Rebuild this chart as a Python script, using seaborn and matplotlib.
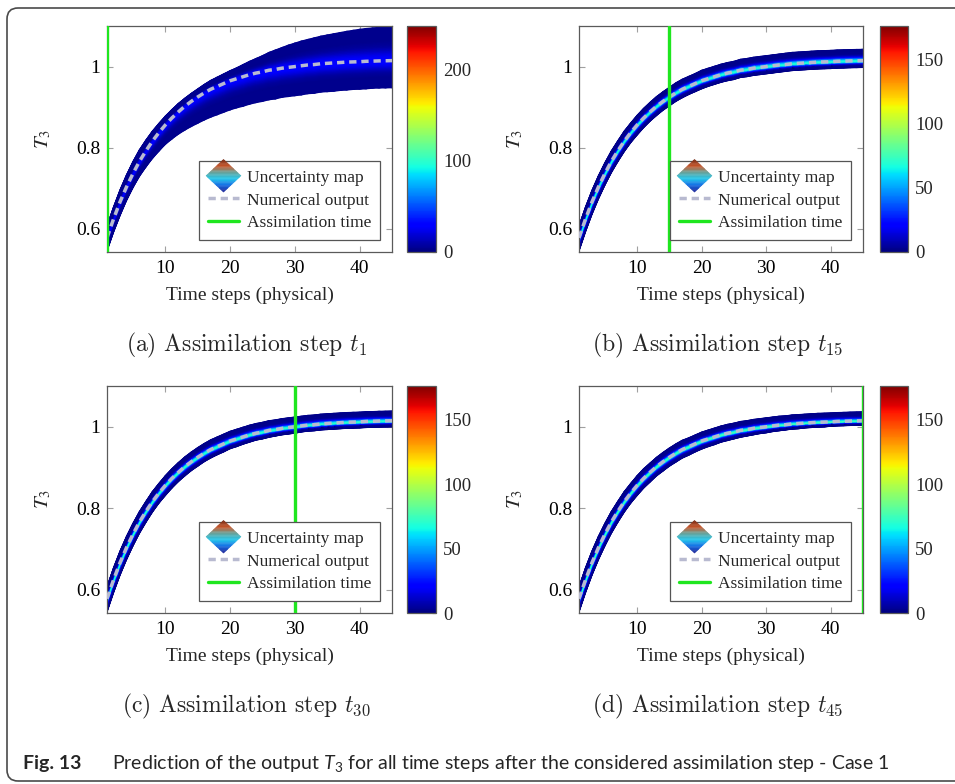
import numpy as np
import matplotlib
matplotlib.use("Agg")
import matplotlib.pyplot as plt
import seaborn as sns
from matplotlib import font_manager
from matplotlib.legend_handler import HandlerBase
from matplotlib.patches import Polygon, FancyBboxPatch
from matplotlib.lines import Line2D
from matplotlib.colors import LinearSegmentedColormap

# ---------------------------------------------------------------- data
time_steps = list(range(1, 46))

numerical_output = [
    0.578, 0.624, 0.666, 0.703, 0.736,
    0.766, 0.792, 0.816, 0.837, 0.856,
    0.873, 0.888, 0.902, 0.914, 0.925,
    0.935, 0.944, 0.951, 0.958, 0.965,
    0.970, 0.975, 0.980, 0.984, 0.987,
    0.991, 0.993, 0.996, 0.998, 1.000,
    1.002, 1.004, 1.005, 1.007, 1.008,
    1.009, 1.010, 1.011, 1.0115, 1.012,
    1.013, 1.0134, 1.014, 1.0143, 1.0147,
]

# ensemble spread above / below the numerical output, per time step
spread_above_a = [
    0.030, 0.030, 0.030, 0.030, 0.030,
    0.029, 0.027, 0.025, 0.023, 0.022,
    0.021, 0.021, 0.020, 0.020, 0.020,
    0.021, 0.022, 0.023, 0.024, 0.025,
    0.027, 0.030, 0.033, 0.036, 0.040,
    0.044, 0.048, 0.051, 0.055, 0.058,
    0.061, 0.063, 0.066, 0.068, 0.070,
    0.072, 0.074, 0.076, 0.078, 0.080,
    0.081, 0.082, 0.083, 0.084, 0.085,
]
spread_below_a = [
    0.033, 0.033, 0.034, 0.034, 0.035,
    0.037, 0.040, 0.043, 0.046, 0.048,
    0.052, 0.055, 0.059, 0.062, 0.065,
    0.067, 0.069, 0.070, 0.071, 0.072,
    0.072, 0.073, 0.073, 0.073, 0.073,
    0.073, 0.073, 0.072, 0.072, 0.072,
    0.072, 0.071, 0.071, 0.070, 0.070,
    0.070, 0.069, 0.069, 0.068, 0.068,
    0.068, 0.067, 0.067, 0.067, 0.067,
]
spread_above_b = [
    0.030, 0.030, 0.029, 0.028, 0.027,
    0.026, 0.025, 0.025, 0.024, 0.024,
    0.024, 0.024, 0.024, 0.024, 0.024,
    0.025, 0.025, 0.025, 0.025, 0.026,
    0.026, 0.026, 0.026, 0.026, 0.026,
    0.027, 0.027, 0.027, 0.027, 0.027,
    0.027, 0.027, 0.028, 0.028, 0.028,
    0.028, 0.028, 0.028, 0.028, 0.028,
    0.028, 0.028, 0.028, 0.028, 0.028,
]
spread_below_b = [
    0.033, 0.032, 0.031, 0.030, 0.029,
    0.028, 0.027, 0.026, 0.025, 0.025,
    0.024, 0.023, 0.023, 0.022, 0.022,
    0.021, 0.021, 0.020, 0.020, 0.020,
    0.019, 0.019, 0.019, 0.019, 0.019,
    0.018, 0.018, 0.018, 0.018, 0.018,
    0.018, 0.018, 0.017, 0.017, 0.017,
    0.017, 0.017, 0.017, 0.017, 0.017,
    0.017, 0.017, 0.017, 0.017, 0.017,
]
spread_above_c = [
    0.030, 0.030, 0.029, 0.028, 0.027,
    0.026, 0.025, 0.025, 0.024, 0.024,
    0.024, 0.024, 0.024, 0.024, 0.024,
    0.024, 0.024, 0.024, 0.024, 0.024,
    0.024, 0.024, 0.024, 0.024, 0.024,
    0.024, 0.024, 0.024, 0.024, 0.024,
    0.024, 0.024, 0.024, 0.024, 0.024,
    0.024, 0.024, 0.024, 0.024, 0.024,
    0.024, 0.024, 0.024, 0.024, 0.024,
]
spread_below_c = [
    0.033, 0.032, 0.031, 0.030, 0.029,
    0.028, 0.027, 0.026, 0.025, 0.025,
    0.024, 0.023, 0.023, 0.022, 0.022,
    0.021, 0.021, 0.020, 0.020, 0.019,
    0.019, 0.018, 0.018, 0.017, 0.017,
    0.017, 0.016, 0.016, 0.016, 0.016,
    0.015, 0.015, 0.015, 0.015, 0.015,
    0.015, 0.015, 0.015, 0.015, 0.015,
    0.015, 0.015, 0.015, 0.015, 0.015,
]
spread_above_d = [
    0.030, 0.030, 0.029, 0.028, 0.027,
    0.026, 0.025, 0.025, 0.024, 0.024,
    0.024, 0.023, 0.023, 0.023, 0.023,
    0.023, 0.023, 0.022, 0.022, 0.022,
    0.022, 0.022, 0.022, 0.022, 0.022,
    0.022, 0.022, 0.022, 0.022, 0.022,
    0.022, 0.022, 0.022, 0.022, 0.022,
    0.022, 0.022, 0.022, 0.022, 0.022,
    0.022, 0.022, 0.022, 0.022, 0.022,
]
spread_below_d = [
    0.033, 0.032, 0.031, 0.030, 0.029,
    0.028, 0.027, 0.026, 0.025, 0.025,
    0.024, 0.024, 0.023, 0.023, 0.022,
    0.022, 0.021, 0.021, 0.020, 0.020,
    0.019, 0.019, 0.018, 0.018, 0.017,
    0.017, 0.016, 0.016, 0.015, 0.015,
    0.014, 0.014, 0.013, 0.013, 0.013,
    0.012, 0.012, 0.012, 0.012, 0.011,
    0.011, 0.011, 0.011, 0.011, 0.011,
]

panel_letters = ["a", "b", "c", "d"]
assimilation_steps = [1, 15, 30, 45]
spreads_above = [spread_above_a, spread_above_b, spread_above_c, spread_above_d]
spreads_below = [spread_below_a, spread_below_b, spread_below_c, spread_below_d]
core_density = [30, 70, 72, 76]          # map value along the ensemble core
edge_density = [3, 2, 2, 2]              # map value at the band edges
colorbar_max = [247, 176, 176, 176]
colorbar_ticks = [[0, 100, 200], [0, 50, 100, 150],
                  [0, 50, 100, 150], [0, 50, 100, 150]]
x_ticks = [10, 20, 30, 40]
y_ticks = [0.6, 0.8, 1.0]
y_tick_labels = ["0.6", "0.8", "1"]
legend_labels = ["Uncertainty map", "Numerical output", "Assimilation time"]

# ---------------------------------------------------------------- style
sns.set_theme(style="white")
available = {f.name for f in font_manager.fontManager.ttflist}
caption_family = "Lato" if "Lato" in available else "Liberation Sans"
plt.rcParams["font.family"] = ["Liberation Serif", "DejaVu Serif"]
plt.rcParams["mathtext.fontset"] = "custom"
plt.rcParams["mathtext.rm"] = caption_family
plt.rcParams["mathtext.it"] = caption_family + ":italic"
plt.rcParams["mathtext.bf"] = caption_family + ":bold"

W, H = 955, 784
fig = plt.figure(figsize=(W / 100, H / 100), dpi=100)
fig.patch.set_facecolor("white")

DASH_COLOR = "#b8bad0"
GREEN = "#1fe61f"
SPINE = "#5a5a5a"


def fx(px):
    return px / W


def fy(py):
    return 1 - py / H


class MapLegendKey:
    pass


class DiamondHandler(HandlerBase):
    def create_artists(self, legend, orig_handle, xdescent, ydescent,
                       width, height, fontsize, trans):
        cx = width / 2 - xdescent
        cy = height / 2 - ydescent
        a = width * 0.56
        b = height * 1.35
        cmap = LinearSegmentedColormap.from_list(
            "key", ["#7a2c16", "#c8552a", "#6aa39a", "#22c6ea", "#1470e6", "#1c2a9e"])
        n = 24
        ys = np.linspace(cy + b, cy - b, n + 1)

        def half(y):
            return a * (1 - abs(y - cy) / b)

        artists = []
        for k in range(n):
            y0, y1 = ys[k], ys[k + 1]
            pts = [(cx - half(y0), y0), (cx + half(y0), y0),
                   (cx + half(y1), y1), (cx - half(y1), y1)]
            if y0 > cy > y1:
                pts += [(cx + a, cy), (cx - a, cy)]
            right = sorted([p for p in pts if p[0] >= cx], key=lambda p: -p[1])
            left = sorted([p for p in pts if p[0] < cx], key=lambda p: p[1])
            col = cmap(k / (n - 1))
            artists.append(Polygon(right + left, closed=True, facecolor=col,
                                   edgecolor=col, linewidth=0.3, transform=trans))
        return artists


axes_boxes = [
    (107, 392, 26, 252),
    (579, 863, 26, 252),
    (107, 392, 386, 613),
    (579, 863, 386, 613),
]
cbar_boxes = [
    (407, 436, 26, 252),
    (880, 908, 26, 252),
    (407, 436, 386, 613),
    (880, 908, 386, 613),
]

t = np.asarray(time_steps, dtype=float)
mean = np.asarray(numerical_output)
u = np.linspace(-1.0, 1.0, 41)[:, None]

for i in range(4):
    l, r, tp, bt = axes_boxes[i]
    ax = fig.add_axes([fx(l), fy(bt), fx(r) - fx(l), fy(tp) - fy(bt)])

    # uncertainty map: curvilinear mesh following the ensemble band
    above = np.asarray(spreads_above[i])[None, :]
    below = np.asarray(spreads_below[i])[None, :]
    Y = mean[None, :] + np.where(u >= 0, u * above, u * below)
    X = np.broadcast_to(t[None, :], Y.shape)
    profile = np.exp(-(u / 0.32) ** 2)
    C = np.broadcast_to(edge_density[i] + (core_density[i] - edge_density[i]) * profile,
                        Y.shape)
    mesh = ax.pcolormesh(X, Y, C, shading="gouraud", cmap="jet",
                         vmin=0, vmax=colorbar_max[i], zorder=1)

    # numerical output
    sns.lineplot(x=time_steps, y=numerical_output, ax=ax, color=DASH_COLOR,
                 linewidth=2.5, zorder=3, legend=False)
    ax.lines[-1].set_dashes([2.1, 1.4])

    # assimilation time
    ax.axvline(assimilation_steps[i], color=GREEN, linewidth=2.4, zorder=4)

    ax.set_xlim(1, 45)
    ax.set_ylim(0.543, 1.10)
    ax.set_xticks(x_ticks)
    ax.set_xticklabels([str(v) for v in x_ticks])
    ax.set_yticks(y_ticks)
    ax.set_yticklabels(y_tick_labels)
    ax.tick_params(axis="both", which="both", direction="in", length=4,
                   width=0.8, color="#a0a0a0", top=True, right=True,
                   bottom=True, left=True, labelsize=14, labelcolor="black")
    ax.tick_params(axis="x", pad=6)
    ax.tick_params(axis="y", pad=5)
    for s in ax.spines.values():
        s.set_color(SPINE)
        s.set_linewidth(0.9)
        s.set_visible(True)

    ax.set_xlabel("Time steps (physical)", fontsize=14, va="top")
    ax.xaxis.set_label_coords(0.5, -0.152)
    ax.set_ylabel(r"$T_3$", fontsize=15, math_fontfamily="stix")
    ax.yaxis.set_label_coords(-0.19, 0.5)

    handles = [MapLegendKey(),
               Line2D([], [], color=DASH_COLOR, linewidth=2.5, dashes=[2.1, 1.4]),
               Line2D([], [], color=GREEN, linewidth=2.4)]
    leg = ax.legend(handles, legend_labels, loc="lower right",
                    bbox_to_anchor=(1 - 12 / (r - l), 12 / (bt - tp)),
                    borderaxespad=0, handler_map={MapLegendKey: DiamondHandler()},
                    prop={"family": "Liberation Serif", "size": 12.5},
                    frameon=True, fancybox=False, edgecolor="#555555",
                    framealpha=1, handlelength=1.8, handletextpad=0.45,
                    labelspacing=0.38, borderpad=0.5)
    leg.get_frame().set_linewidth(0.9)
    leg.set_zorder(6)

    # colour bar
    cl, cr, ct, cb_ = cbar_boxes[i]
    cax = fig.add_axes([fx(cl), fy(cb_), fx(cr) - fx(cl), fy(ct) - fy(cb_)])
    cbar = fig.colorbar(mesh, cax=cax, ticks=colorbar_ticks[i])
    cbar.outline.set_edgecolor(SPINE)
    cbar.outline.set_linewidth(0.9)
    cax.tick_params(direction="in", length=3, width=0.8, color="#404040",
                    labelsize=13.5, pad=5)

    # sub-caption
    cx_center = (l + r) / 2 - 3
    cy_caption = 345 if i < 2 else 706
    fig.text(fx(cx_center), fy(cy_caption),
             rf"({panel_letters[i]}) Assimilation step $t_{{{assimilation_steps[i]}}}$",
             ha="center", va="center", fontsize=17, family="cmr10",
             math_fontfamily="cm")

# figure caption
fig.text(fx(23), fy(763), "Fig. 13", ha="left", va="center", fontsize=14,
         family=caption_family, weight="bold")
fig.text(fx(112), fy(763),
         r"Prediction of the output $T_3$ for all time steps after the considered "
         r"assimilation step - Case 1",
         ha="left", va="center", fontsize=14, family=caption_family)

# rounded frame around the figure
frame = FancyBboxPatch((7, 3), 1000, 773, boxstyle="round,pad=0,rounding_size=11",
                       transform=None, facecolor="none", edgecolor="#4a4a4a",
                       linewidth=1.2)
fig.patches.append(frame)

fig.savefig("out.png", dpi=100, facecolor="white")
